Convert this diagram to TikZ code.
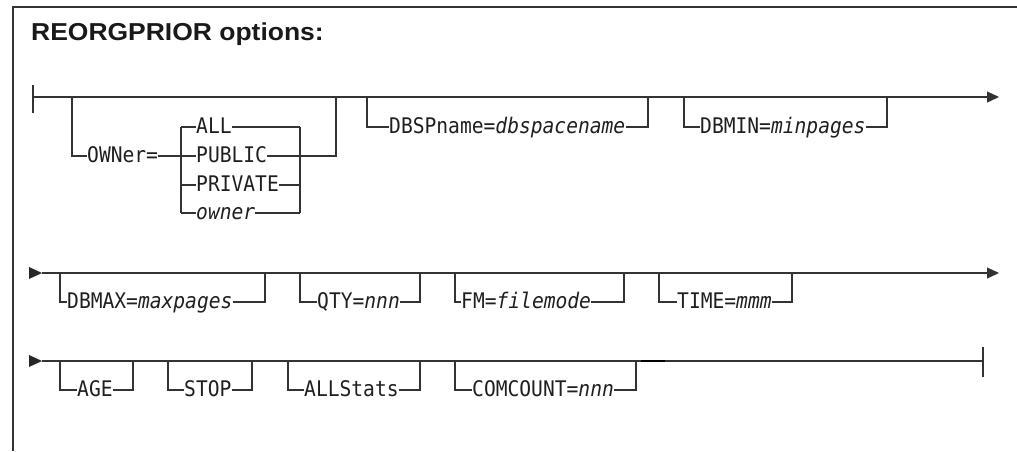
\documentclass[tikz,border=0pt]{standalone}
\usepackage{fontspec}
\usetikzlibrary{arrows.meta}
\newfontfamily\kwfont{DejaVu Sans Mono}[FakeStretch=0.912]
\newfontfamily\titlefont{Liberation Sans}[FakeStretch=1.08]
\newcommand\rrbranch[7]{%
  \node[kw] (#1) at (#6,#5) {#7};
  \coordinate (#1-a) at (#2,#4);
  \coordinate (#1-b) at (#2,#5);
  \coordinate (#1-c) at (#3,#5);
  \coordinate (#1-d) at (#3,#4);
  \draw[rr] (#1-a) -- (#1-b) -- (#1.west);
  \draw[rr] (#1.east) -- (#1-c) -- (#1-d);
}
\begin{document}
\begin{tikzpicture}[x=1pt,y=-1pt,
  rr/.style={line width=1.2pt, draw=black!80},
  frame/.style={line width=1.4pt, draw=black!80},
  kw/.style={font=\kwfont\fontsize{21.5}{24}\selectfont, inner sep=0pt,
    text height=16pt, text depth=3.4pt, anchor=west, text=black!88},
  endarrow/.style={-{Triangle[length=12pt,width=11pt]}},
  title/.style={font=\titlefont\bfseries\fontsize{24.5}{30}\selectfont, inner sep=0pt, anchor=base west, text=black!90}]
\useasboundingbox (0,0) rectangle (1017,451);
% frame
\coordinate (fTR) at (1017,7);
\coordinate (fTL) at (13,7);
\coordinate (fBL) at (13,451);
\draw[frame] (fTR) -- (fTL) -- (fBL);
\node[title] (ttl) at (31,40) {REORGPRIOR options:};

% ---------- row 1 ----------
\coordinate (r1s) at (33,97);
\coordinate (r1e) at (999,97);
\coordinate (sbT) at (33,85);
\coordinate (sbB) at (33,113);
\draw[rr] (sbT) -- (sbB);
\draw[rr,endarrow] (r1s) -- (r1e);

% OWNer
\coordinate (oA) at (72,97);
\coordinate (oB) at (72,156);
\coordinate (oC) at (336,156);
\coordinate (oD) at (336,97);
\node[kw] (own) at (87,156) {OWNer=};
\draw[rr] (oA) -- (oB) -- (own.west);
\coordinate (ilT) at (181,127);
\coordinate (ilB) at (181,213);
\coordinate (irT) at (300,127);
\coordinate (irB) at (300,213);
\coordinate (irP) at (300,185);
\draw[rr] (ilT) -- (ilB);
\draw[rr] (irT) -- (irB);
\node[kw] (all) at (196,127) {ALL};
\node[kw] (pub) at (196,156) {PUBLIC};
\node[kw] (pri) at (196,185) {PRIVATE};
\node[kw] (onr) at (196,213) {\itshape owner};
\draw[rr] (ilT) -- (all.west);
\draw[rr] (all.east) -- (irT);
\draw[rr] (own.east) -- (pub.west);
\draw[rr] (pub.east) -- (oC) -- (oD);
\coordinate (ilP) at (181,185);
\draw[rr] (ilP) -- (pri.west);
\draw[rr] (pri.east) -- (irP);
\draw[rr] (ilB) -- (onr.west);
\draw[rr] (onr.east) -- (irB);

\rrbranch{dbsp}{367}{648}{97}{127}{389}{DBSPname=\itshape dbspacename}
\rrbranch{dbmin}{684}{887}{97}{127}{700}{DBMIN=\itshape minpages}

% ---------- row 2 ----------
\coordinate (r2a) at (29,267);
\coordinate (r2b) at (42,273);
\coordinate (r2c) at (29,279);
\fill[black!85] (r2a) -- (r2b) -- (r2c) -- cycle;
\coordinate (r2e) at (999,273);
\draw[rr,endarrow] (r2b) -- (r2e);
\rrbranch{dbmax}{60}{265}{273}{302}{67}{DBMAX=\itshape maxpages}
\rrbranch{qty}{300}{420}{273}{302}{317}{QTY=\itshape nnn}
\rrbranch{fm}{455}{624}{273}{302}{461}{FM=\itshape filemode}
\rrbranch{time}{659}{792}{273}{302}{677}{TIME=\itshape mmm}

% ---------- row 3 ----------
\coordinate (r3a) at (29,355);
\coordinate (r3b) at (42,361);
\coordinate (r3c) at (29,367);
\fill[black!85] (r3a) -- (r3b) -- (r3c) -- cycle;
\coordinate (r3e) at (983,361);
\draw[rr] (r3b) -- (r3e);
\coordinate (ebT) at (983,347);
\coordinate (ebB) at (983,377);
\draw[rr] (ebT) -- (ebB);
\rrbranch{age}{60}{133}{361}{390}{77}{AGE}
\rrbranch{stop}{168}{252}{361}{390}{184}{STOP}
\rrbranch{alls}{288}{420}{361}{390}{304}{ALLStats}
\rrbranch{comc}{455}{636}{361}{390}{472}{COMCOUNT=\itshape nnn}
\coordinate (dkA) at (641,361);
\coordinate (dkB) at (665,361);
\draw[line width=1.8pt, black] (dkA) -- (dkB);
\end{tikzpicture}
\end{document}
